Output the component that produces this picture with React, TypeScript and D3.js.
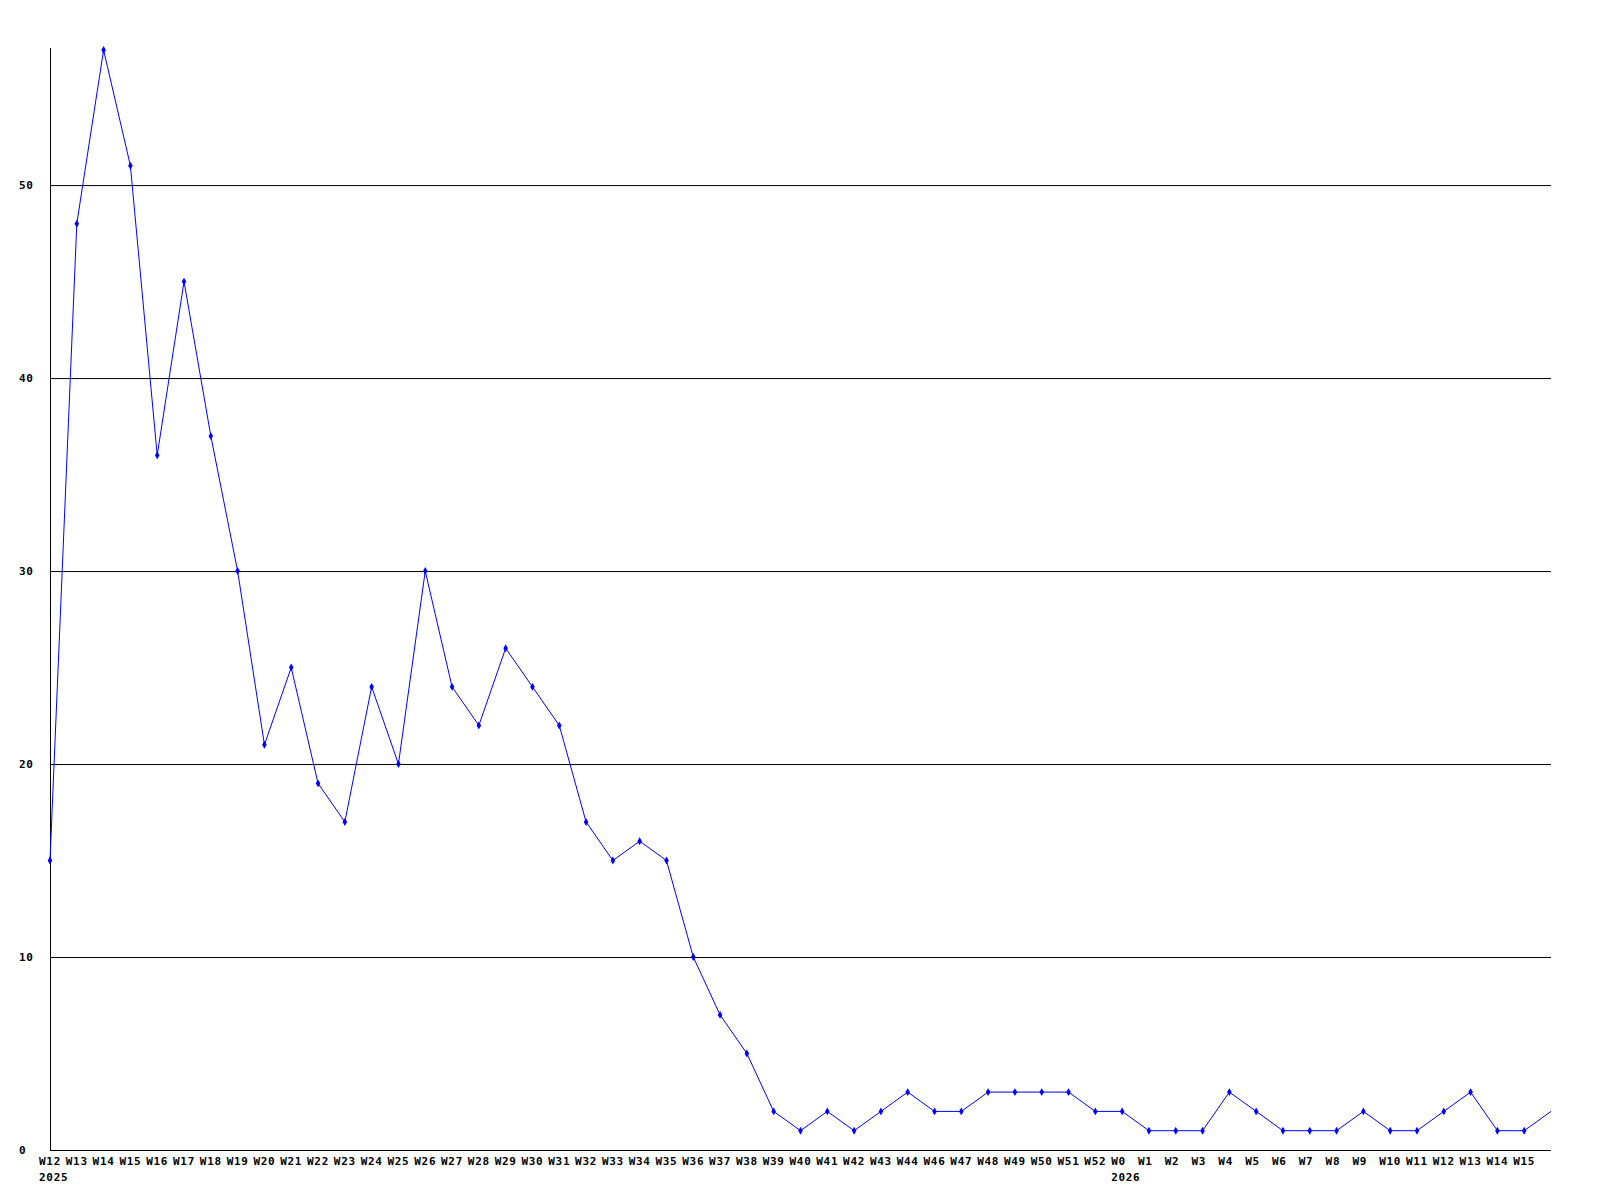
import * as d3 from "d3";

const width = 1600;
const height = 1200;

// week labels along the x axis (W45 is absent in the source)
const weeks = [
  "W12", "W13", "W14", "W15", "W16", "W17", "W18", "W19", "W20", "W21",
  "W22", "W23", "W24", "W25", "W26", "W27", "W28", "W29", "W30", "W31",
  "W32", "W33", "W34", "W35", "W36", "W37", "W38", "W39", "W40", "W41",
  "W42", "W43", "W44", "W46", "W47", "W48", "W49", "W50", "W51", "W52",
  "W0", "W1", "W2", "W3", "W4", "W5", "W6", "W7", "W8", "W9",
  "W10", "W11", "W12", "W13", "W14", "W15", "",
];

const counts = [
  15, 48, 57, 51, 36, 45, 37, 30, 21, 25,
  19, 17, 24, 20, 30, 24, 22, 26, 24, 22,
  17, 15, 16, 15, 10, 7, 5, 2, 1, 2,
  1, 2, 3, 2, 2, 3, 3, 3, 3, 2,
  2, 1, 1, 1, 3, 2, 1, 1, 1, 2,
  1, 1, 2, 3, 1, 1, 2,
];

const yearIndex = [0, 40];
const yearText = ["2025", "2026"];

const yTicks = [0, 10, 20, 30, 40, 50];

const left = 50;
const right = 1551;
const top = 50;
const bottom = 1150;

const font = "'DejaVu Sans Mono', monospace";

export default function App() {
  const x = d3.scaleLinear().domain([0, counts.length - 1]).range([left, right]);
  const y = d3.scaleLinear().domain([0, 57]).range([bottom, top]);

  const line = d3
    .line<number>()
    .x((_, i) => x(i))
    .y((d) => y(d));

  const diamond = d3.symbol(d3.symbolDiamond, 18)();

  const textStyle = {
    fontFamily: font,
    fontWeight: "bold" as const,
    fontSize: 11,
    letterSpacing: 0.7,
  };

  return (
    <svg
      width={width}
      height={height}
      style={{ position: "absolute", left: 0, top: 0, background: "#fff" }}
    >
      {yTicks
        .filter((t) => t > 0)
        .map((t) => (
          <line key={t} x1={left} x2={right} y1={y(t) + 0.5} y2={y(t) + 0.5} stroke="#000" />
        ))}
      <line x1={left + 0.5} x2={left + 0.5} y1={top - 2} y2={bottom} stroke="#000" />
      <line x1={left} x2={right} y1={bottom + 0.5} y2={bottom + 0.5} stroke="#000" />

      {yTicks.map((t) => (
        <text key={t} x={19} y={y(t) + 4} style={textStyle}>
          {t}
        </text>
      ))}

      {weeks.map((w, i) => (
        <text key={i} x={x(i) - 11} y={1165} style={textStyle}>
          {w}
        </text>
      ))}
      {yearIndex.map((idx, i) => (
        <text key={idx} x={x(idx) - 11} y={1181} style={textStyle}>
          {yearText[i]}
        </text>
      ))}

      <path d={line(counts) ?? ""} fill="none" stroke="#0000ff" strokeWidth={1} />
      {counts.slice(0, counts.length - 1).map((c, i) => (
        <path
          key={i}
          d={diamond ?? ""}
          transform={`translate(${x(i)},${y(c)})`}
          fill="#0000ff"
        />
      ))}
    </svg>
  );
}
